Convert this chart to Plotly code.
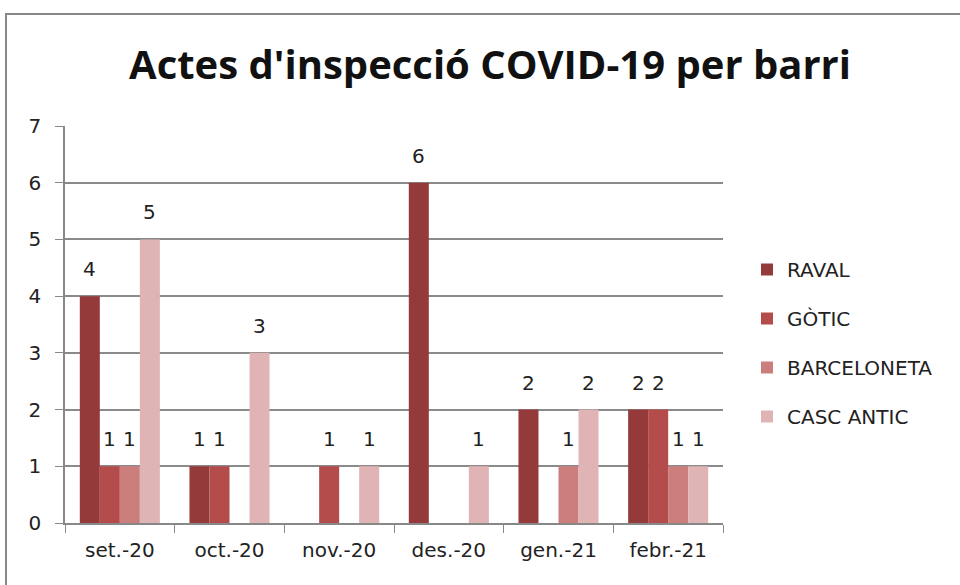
import plotly.graph_objects as go

categories = ["set.-20", "oct.-20", "nov.-20", "des.-20", "gen.-21", "febr.-21"]
raval = [4, 1, None, 6, 2, 2]
gotic = [1, 1, 1, None, None, 2]
barceloneta = [1, None, None, None, 1, 1]
casc_antic = [5, 3, 1, 1, 2, 1]

series = [
    ("RAVAL", raval, "#953A3A"),
    ("GÒTIC", gotic, "#B34C4B"),
    ("BARCELONETA", barceloneta, "#CC7E7D"),
    ("CASC ANTIC", casc_antic, "#E0B4B4"),
]

L, T, W, H = 65, 126, 658, 397
BARGAP = 0.27
n = len(series)
bar_px = W / len(categories) * (1 - BARGAP) / n

fig = go.Figure()
annotations = []
for i, (name, vals, col) in enumerate(series):
    fig.add_trace(go.Bar(
        x=categories, y=vals, name=name, marker_color=col,
        marker_line_width=0, legendgroup=f"g{i}",
    ))
    for c, v in zip(categories, vals):
        if v is None:
            continue
        annotations.append(dict(
            x=c, y=v, xref="x", yref="y", text=str(v), showarrow=False,
            xanchor="center", yanchor="bottom",
            xshift=(i - (n - 1) / 2) * bar_px, yshift=13,
            font=dict(family="DejaVu Sans", size=20, color="#222"),
        ))

fig.update_layout(
    width=960, height=585,
    margin=dict(l=L, r=960 - L - W, t=T, b=585 - T - H),
    paper_bgcolor="white", plot_bgcolor="white",
    barmode="group", bargap=BARGAP, bargroupgap=0,
    title=dict(text="<b>Actes d'inspecció COVID-19 per barri</b>",
               x=490 / 960, xanchor="center", y=1 - 65 / 585, yanchor="middle",
               font=dict(family="Open Sans", size=40, color="#111")),
    font=dict(family="DejaVu Sans", size=20, color="#222"),
    legend=dict(x=(747 - L) / W, xanchor="left", y=(523 - 343) / H, yanchor="middle",
                tracegroupgap=20, font=dict(size=20, color="#222"),
                itemwidth=30),
    showlegend=True,
    annotations=annotations,
)
fig.update_xaxes(showline=True, linecolor="#888", linewidth=1.5,
                 ticks="outside", tickson="boundaries", ticklen=8, tickcolor="#888",
                 tickfont=dict(size=20, color="#222"), showgrid=False,
                 ticklabelstandoff=8)
fig.update_yaxes(range=[0, 7], dtick=1, showline=True, linecolor="#888", linewidth=1.5,
                 ticks="outside", ticklen=8, tickcolor="#888",
                 gridcolor="#8a8a8a", gridwidth=1.5, zeroline=False,
                 tickfont=dict(size=20, color="#222"), ticklabelstandoff=10)
fig.add_shape(type="rect", xref="paper", yref="paper",
              x0=(6 - L) / W, x1=1.6, y0=(523 - 14) / H, y1=-0.5,
              line=dict(color="#888", width=2), layer="below")
fig.write_html("out.html", config={"displayModeBar": False},
               post_script="document.body.style.margin='0';")
